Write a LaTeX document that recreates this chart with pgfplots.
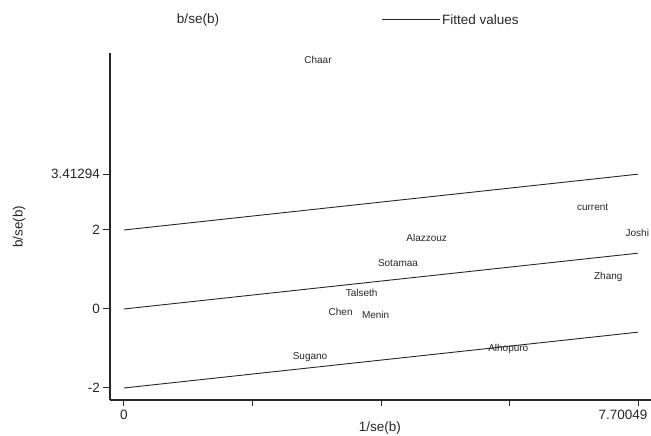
\documentclass[border=0pt]{standalone}
\usepackage{fontspec}
\setmainfont{Liberation Sans}
\usepackage{pgfplots}
\pgfplotsset{compat=1.18}
\begin{document}
\begin{tikzpicture}[x=1pt,y=1pt]
\useasboundingbox (0,0) rectangle (651,436);
\begin{axis}[
  at={(110pt,36pt)}, anchor=south west,
  scale only axis, width=541pt, height=347pt,
  xmin=-0.2097, xmax=7.895, ymin=-2.304, ymax=6.481,
  axis lines*=left, axis line style={-, line width=1.2pt, black!85},
  xtick={0,1.92512,3.85025,5.77537}, xticklabels={0,,,},
  extra x ticks={7.70049}, extra x tick labels={7.70049},
  extra x tick style={tick label style={xshift=-15pt}},
  ytick={-2,0,2,3.41294}, yticklabels={-2,0,2,3.41294},
  tick align=outside, major tick length=6.5pt,
  tick style={line width=1pt, black!85},
  tick label style={font=\fontsize{13.5}{15}\selectfont, text=black!85},
  /pgf/number format/assume math mode=true,
  xlabel={1/se(b)}, ylabel={b/se(b)},
  label style={font=\fontsize{13.5}{15}\selectfont, text=black!85},
  xlabel style={at={(axis description cs:0.499,0)}, anchor=center, yshift=-28pt},
  ylabel style={at={(axis description cs:-0.168,0.4986)}, anchor=center},
  clip=false,
]
\addplot[line width=0.9pt, black!85] coordinates {(0,2) (7.70049,3.41294)};
\addplot[line width=0.9pt, black!85] coordinates {(0,0) (7.70049,1.41294)};
\addplot[line width=0.9pt, black!85] coordinates {(0,-2) (7.70049,-0.58706)};
\addplot[only marks, mark=none, nodes near coords, point meta=explicit symbolic,
  nodes near coords style={anchor=center, font=\fontsize{10}{12}\selectfont, text=black!85}]
  table[meta=label] {
x y label
2.906 6.30 Chaar
7.02 2.575 current
7.69 1.92 Joshi
4.535 1.79 Alazzouz
4.105 1.165 Sotamaa
7.255 0.81 Zhang
3.56 0.41 Talseth
3.246 -0.08 Chen
3.77 -0.15 Menin
2.787 -1.21 Sugano
5.757 -1.01 Alhopuro
};
\end{axis}
\node[font=\fontsize{13.5}{15}\selectfont, text=black!85] at (198,416) {b/se(b)};
\draw[line width=1pt, black!85] (382,416) -- (440,416);
\node[anchor=west, inner sep=0pt, font=\fontsize{13.5}{15}\selectfont, text=black!85] at (442,416) {Fitted values};
\end{tikzpicture}
\end{document}
